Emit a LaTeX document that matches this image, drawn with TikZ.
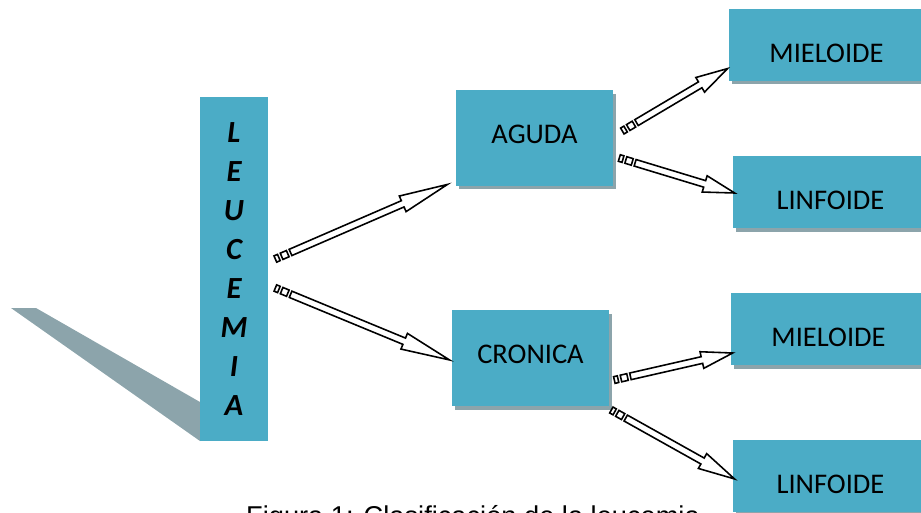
\documentclass[tikz,border=0pt]{standalone}
\usepackage{fontspec}
\setmainfont{Carlito}
\newfontfamily\capfont{Liberation Sans}
\usetikzlibrary{calc,shadows}
\definecolor{boxblue}{RGB}{75,172,198}
\definecolor{shadowgray}{RGB}{140,164,171}
\tikzset{
  cell/.style={rectangle, fill=boxblue, inner sep=0pt,
    minimum width=3.14cm, minimum height=1.92cm,
    font=\fontsize{16.2}{19}\selectfont},
  box/.style={cell,
    drop shadow={shadow xshift=0.06cm, shadow yshift=-0.07cm, fill=shadowgray, opacity=1}},
  midbox/.style={box, text height=0.2cm, text depth=0pt},
  leafbox/.style={box, minimum width=3.9cm, minimum height=1.44cm,
    text height=0.7cm, text depth=0pt},
  striped/.style={draw=black, fill=white, line width=0.9pt, line join=miter}
}
\newcommand\stripedarrow[2]{%
  \pgfpointdiff{\pgfpointanchor{#1}{center}}{\pgfpointanchor{#2}{center}}%
  \pgfgetlastxy{\arrdx}{\arrdy}%
  \pgfmathsetmacro\arrlen{veclen(\arrdx,\arrdy)/0.569055}%
  \pgfmathsetmacro\arrang{atan2(\arrdy,\arrdx)}%
  \pgfmathsetmacro\arrhead{0.74*\arrlen}%
  \begin{scope}[shift={(#1)}, rotate=\arrang, x=0.02cm, y=0.02cm]
    \draw [striped] (0,-3.4) rectangle (3.8,3.4);
    \draw [striped] (6.8,-3.4) rectangle (13.5,3.4);
    \draw [striped] (16.5,-3.4) -- (\arrhead,-3.4) -- (\arrhead,-8.5) -- (\arrlen,0)
      -- (\arrhead,8.5) -- (\arrhead,3.4) -- (16.5,3.4) -- cycle;
  \end{scope}}

\begin{document}
\begin{tikzpicture}[x=0.02cm, y=-0.02cm]
  \useasboundingbox (0,0) rectangle (921,512);

  \fill [shadowgray] (11,308) -- (36,308) -- (200,402) -- (200,441) -- cycle;

  \node [cell, minimum width=1.36cm, minimum height=6.88cm, align=center,
    font=\bfseries\itshape\fontsize{17.5}{22.2}\selectfont] (leu) at (234,269)
    {L\\E\\U\\C\\E\\M\\I\\A};

  \node [midbox] (aguda) at (534.5,138) {AGUDA};
  \node [midbox] (cronica) at (530.5,358) {CRONICA};

  \node [leafbox] (mie1) at (826.5,44.5) {MIELOIDE};
  \node [leafbox] (lin1) at (830.5,192) {LINFOIDE};
  \node [leafbox] (mie2) at (828.5,329) {MIELOIDE};
  \node [leafbox] (lin2) at (830.5,476) {LINFOIDE};

  \node [anchor=base west, font=\capfont\fontsize{15.5}{18}\selectfont] (cap)
    at (240,525) {Figura 1: Clasificación de la leucemia};

  \coordinate (a1s) at ($(leu.east)+(7,-10)$);
  \coordinate (a1e) at ($(aguda.south west)+(-8,-2)$);
  \coordinate (a2s) at ($(leu.east)+(7,19)$);
  \coordinate (a2e) at ($(cronica.west)+(-2,2)$);
  \coordinate (a3s) at ($(aguda.east)+(9,-7)$);
  \coordinate (a3e) at ($(mie1.west)+(-1,24)$);
  \coordinate (a4s) at ($(aguda.east)+(6,20)$);
  \coordinate (a4e) at ($(lin1.west)+(2,1)$);
  \coordinate (a5s) at ($(cronica.east)+(5,22)$);
  \coordinate (a5e) at ($(mie2.west)+(2,24)$);
  \coordinate (a6s) at ($(cronica.east)+(2,52)$);
  \coordinate (a6e) at ($(lin2.west)+(2,3)$);

  \stripedarrow{a1s}{a1e}
  \stripedarrow{a2s}{a2e}
  \stripedarrow{a3s}{a3e}
  \stripedarrow{a4s}{a4e}
  \stripedarrow{a5s}{a5e}
  \stripedarrow{a6s}{a6e}
\end{tikzpicture}
\end{document}
